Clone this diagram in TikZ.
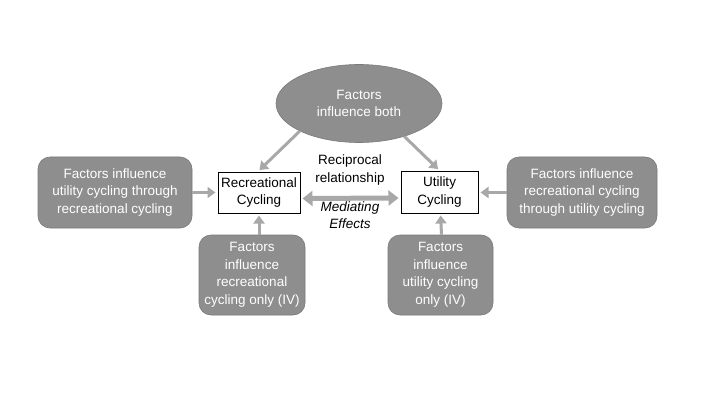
\documentclass[tikz,border=0pt]{standalone}
\usepackage{fontspec}
\setmainfont{Liberation Sans}
\usetikzlibrary{arrows.meta,shapes.geometric}
\definecolor{boxgray}{HTML}{8E8E8E}
\definecolor{boxedge}{HTML}{7A7A7A}
\definecolor{arrgray}{HTML}{A8A8A8}
\begin{document}
\begin{tikzpicture}[x=1pt,y=1pt,
  every node/.style={font=\fontsize{13.5}{17.5}\selectfont, align=center, inner sep=0pt},
  factor/.style={rounded corners=12pt, fill=boxgray, draw=boxedge, line width=0.6pt, text=white},
  cyc/.style={draw=black, line width=1pt, fill=white},
  arr/.style={draw=arrgray, line width=3pt, -{Triangle[length=8pt,width=11pt]}, shorten >=2pt},
  dbl/.style={draw=arrgray, line width=5pt, {Triangle[length=10pt,width=15pt]}-{Triangle[length=10pt,width=15pt]}}
]
\useasboundingbox (0,0) rectangle (720,405);
\fill[white] (0,0) rectangle (720,405);
\node[ellipse, fill=boxgray, draw=boxedge, line width=0.6pt, text=white, minimum width=166pt, minimum height=78pt] (ell) at (359,301.5) {Factors\\influence both};
\node[factor, minimum width=154pt, minimum height=71pt] (lf) at (115,212.5) {Factors influence\\utility cycling through\\recreational cycling};
\node[factor, minimum width=150pt, minimum height=71pt] (rf) at (582,212.5) {Factors influence\\recreational cycling\\through utility cycling};
\node[factor, minimum width=106pt, minimum height=80pt] (bl) at (252,130) {Factors\\influence\\recreational\\cycling only (IV)};
\node[factor, minimum width=105pt, minimum height=80pt] (br) at (440.5,130) {Factors\\influence\\utility cycling\\only (IV)};
\node[cyc, minimum width=82pt, minimum height=41pt] (rec) at (259,212.5) {Recreational\\Cycling};
\node[cyc, minimum width=77pt, minimum height=42pt] (util) at (439.5,213) {Utility\\Cycling};
\draw[dbl] ([xshift=2pt,yshift=-6pt]rec.east) -- ([xshift=-2pt,yshift=-6pt]util.west);
\node (rel) at (350,235) {Reciprocal\\relationship};
\node[font=\fontsize{13.5}{17.5}\selectfont\itshape] (med) at (350,190) {Mediating\\Effects};
\draw[arr] (ell.205) -- ([xshift=-1pt]rec.north);
\draw[arr] (ell.-36) -- (util.north);
\draw[arr] (lf.east) -- (rec.west |- lf.east);
\draw[arr] (rf.west) -- (util.east |- rf.west);
\draw[arr] (bl.north -| rec.south) -- (rec.south);
\draw[arr] ([xshift=1pt]br.north) -- ([xshift=1pt]util.south);
\end{tikzpicture}
\end{document}
